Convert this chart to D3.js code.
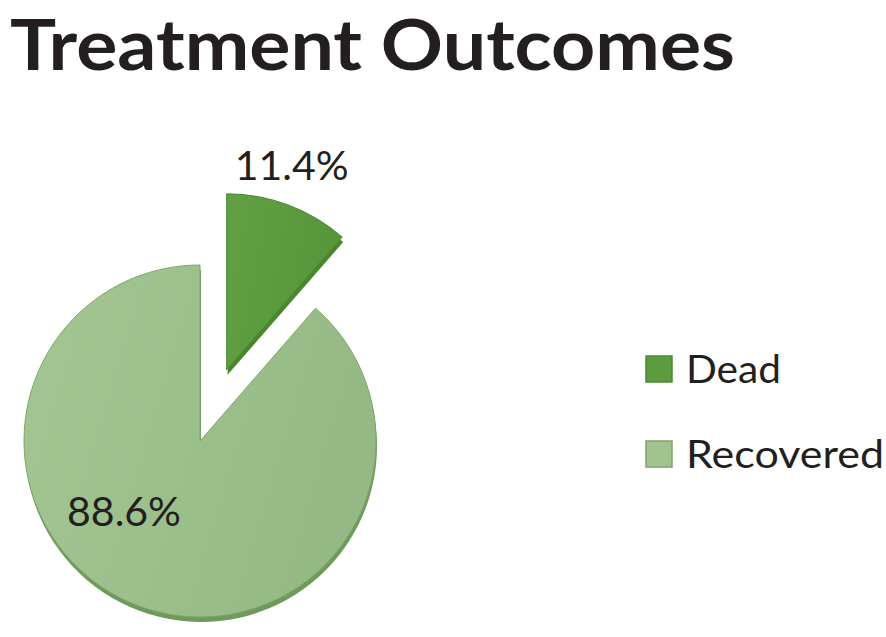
<!DOCTYPE html>
<html><head><meta charset="utf-8">
<script src="https://cdn.jsdelivr.net/npm/d3@7/dist/d3.min.js"></script>
<style>html,body{margin:0;padding:0;background:#fff;}</style>
</head><body>
<svg id="chart" width="886" height="637"></svg>
<script>
const categories = ["Dead", "Recovered"];
const values = [11.4, 88.6];
const labels = ["11.4%", "88.6%"];
const title = "Treatment Outcomes";

const fills = ["#5d9b40", "#9fc28e"];
const fillsDark = ["#4a8530", "#6f9a5c"];
const strokes = ["#4c8a32", "#7fa56c"];

const svg = d3.select("#chart");
const cx = 200, cy = 441, R = 176;
const explode = 76;
const font = "Lato, 'Open Sans', sans-serif";

function fitWidth(sel, w) {
  sel.each(function () {
    const cur = this.getComputedTextLength();
    if (Math.abs(cur - w) > 2) d3.select(this).attr("textLength", w).attr("lengthAdjust", "spacingAndGlyphs");
  });
}

const defs = svg.append("defs");
const grads = [["#62a044", "#57953a"], ["#a4c694", "#95b985"]];
grads.forEach((g, i) => {
  const lg = defs.append("linearGradient").attr("id", "g" + i)
    .attr("x1", "0%").attr("y1", "0%").attr("x2", "100%").attr("y2", "30%");
  lg.append("stop").attr("offset", "0%").attr("stop-color", g[0]);
  lg.append("stop").attr("offset", "100%").attr("stop-color", g[1]);
});

// title
const t = svg.append("text").attr("x", 10).attr("y", 70)
  .attr("font-family", font).attr("font-weight", 700).attr("font-size", 70)
  .attr("fill", "#231f20").text(title);
fitWidth(t, 725);

const pie = d3.pie().sort(null).value(d => d)(values);
const arc = d3.arc().innerRadius(0).outerRadius(R);

const offsets = pie.map((p, i) => {
  if (i !== 0) return [0, 0];
  const a = (p.startAngle + p.endAngle) / 2;
  return [explode * Math.sin(a), -explode * Math.cos(a)];
});

const g = svg.append("g").attr("transform", `translate(${cx},${cy})`);

// depth (3D rim)
g.selectAll("path.depth").data(pie).join("path").attr("class", "depth")
  .attr("transform", (d, i) => `translate(${offsets[i][0] + 1},${offsets[i][1] + 5})`)
  .attr("d", arc).attr("fill", (d, i) => fillsDark[i]);

g.selectAll("path.top").data(pie).join("path").attr("class", "top")
  .attr("transform", (d, i) => `translate(${offsets[i][0]},${offsets[i][1]})`)
  .attr("d", arc).attr("fill", (d, i) => `url(#g${i})`)
  .attr("stroke", (d, i) => strokes[i]).attr("stroke-width", 1);

// data labels (angle in degrees, radius) placed relative to slice centre
const labelPos = [[17.7, 214], [226.9, 104]];
const lbl = g.selectAll("text.lbl").data(pie).join("text").attr("class", "lbl")
  .attr("x", (d, i) => offsets[i][0] + labelPos[i][1] * Math.sin(labelPos[i][0] * Math.PI / 180) - 57)
  .attr("y", (d, i) => offsets[i][1] - labelPos[i][1] * Math.cos(labelPos[i][0] * Math.PI / 180))
  .attr("dy", "0.35em")
  .attr("font-family", font).attr("font-size", 41).attr("fill", "#231f20")
  .text((d, i) => labels[i]);
fitWidth(lbl, 114);

// legend
const lg = svg.append("g").attr("transform", "translate(646,356)");
const items = lg.selectAll("g").data(categories).join("g")
  .attr("transform", (d, i) => `translate(0,${i * 85})`);
items.append("rect").attr("width", 26).attr("height", 26)
  .attr("fill", (d, i) => fills[i]).attr("stroke", (d, i) => strokes[i]).attr("stroke-width", 1.5);
const legendWidths = [95, 198];
items.append("text").attr("x", 40).attr("y", 27)
  .attr("font-family", font).attr("font-size", 38).attr("fill", "#231f20")
  .text(d => d)
  .each(function (d, i) { fitWidth(d3.select(this), legendWidths[i]); });
</script>
</body></html>
